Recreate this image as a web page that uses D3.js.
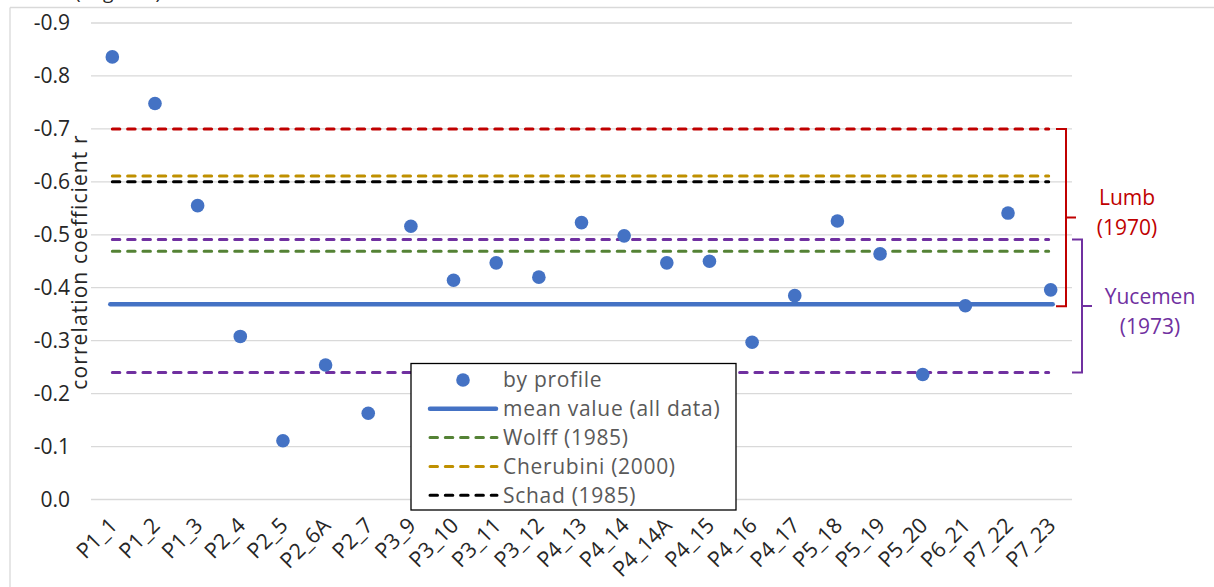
<!DOCTYPE html>
<html>
<head>
<meta charset="utf-8">
<script src="https://cdn.jsdelivr.net/npm/d3@7"></script>
<style>
  html, body { margin: 0; padding: 0; background: #fff; }
  svg { display: block; font-family: "Open Sans", Lato, sans-serif; }
</style>
</head>
<body>
<svg id="chart" width="1214" height="587"></svg>
<script>
// ---- data ----
const categories = ["P1_1","P1_2","P1_3","P2_4","P2_5","P2_6A","P2_7","P3_9","P3_10","P3_11","P3_12",
  "P4_13","P4_14","P4_14A","P4_15","P4_16","P4_17","P5_18","P5_19","P5_20","P6_21","P7_22","P7_23"];
const profileValues = [-0.836,-0.748,-0.555,-0.308,-0.111,-0.254,-0.163,-0.516,-0.414,-0.447,-0.420,
  -0.523,-0.498,-0.447,-0.450,-0.297,-0.385,-0.526,-0.464,-0.236,-0.366,-0.541,-0.396];
const yTicks = [0.0,-0.1,-0.2,-0.3,-0.4,-0.5,-0.6,-0.7,-0.8,-0.9];
const meanValue = -0.369;
const refNames = ["Lumb upper","Cherubini (2000)","Schad (1985)","Yucemen upper","Wolff (1985)","Yucemen lower"];
const refValues = [-0.70, -0.611, -0.60, -0.491, -0.469, -0.240];
const refColors = ["#c00000","#bf9000","#000000","#7030a0","#548235","#7030a0"];
const legendLabels = ["by profile","mean value (all data)","Wolff (1985)","Cherubini (2000)","Schad (1985)"];
const bracketLabels = [["Lumb","(1970)"],["Yucemen","(1973)"]];
const bracketRanges = [[-0.70,-0.365],[-0.491,-0.240]];
const bracketColors = ["#c00000","#7030a0"];

// ---- layout ----
const svg = d3.select("#chart");
const pLeft = 91, pRight = 1072, pTop = 23, pBottom = 499.5;

const x = d3.scaleBand().domain(categories).range([pLeft, pRight]);
const xc = c => x(c) + x.bandwidth()/2;
const y = d3.scaleLinear().domain([0, -0.9]).range([pBottom, pTop]);

// outer frame (chart area border, partially visible)
svg.append("line").attr("x1",10).attr("x2",1214).attr("y1",7.5).attr("y2",7.5)
  .attr("stroke","#d9d9d9").attr("stroke-width",1.3);
svg.append("line").attr("x1",10).attr("x2",10).attr("y1",7.5).attr("y2",587)
  .attr("stroke","#d9d9d9").attr("stroke-width",1.3);
// title remnant, mostly cut off at the top edge in the reference
svg.append("text").attr("x",75).attr("y",-1.5).attr("font-size",19).attr("fill","#262626").text("(negative)");

// gridlines
svg.append("g").selectAll("line").data(yTicks).join("line")
  .attr("x1",pLeft).attr("x2",pRight)
  .attr("y1",d=>y(d)).attr("y2",d=>y(d))
  .attr("stroke","#d9d9d9").attr("stroke-width",1.3);

// y axis
const yAxis = d3.axisLeft(y).tickValues(yTicks).tickSize(0).tickPadding(0)
  .tickFormat(d => d === 0 ? "0.0" : d3.format(".1f")(d).replace("\u2212","-"));
const gy = svg.append("g").attr("transform",`translate(${pLeft-21},0)`).call(yAxis);
gy.select(".domain").remove();
gy.selectAll("text").attr("font-size",21).attr("fill","#262626").attr("font-family","'Open Sans', sans-serif");

// y title
svg.append("text")
  .attr("transform",`translate(87,262) rotate(-90)`)
  .attr("text-anchor","middle").attr("font-size",21).attr("letter-spacing",1.1).attr("fill","#262626")
  .text("correlation coefficient r");

// x axis
const xAxis = d3.axisBottom(x).tickSize(0).tickPadding(0);
const gx = svg.append("g").attr("transform",`translate(0,${pBottom})`).call(xAxis);
gx.select(".domain").remove();
gx.selectAll("text")
  .attr("font-size",21.5).attr("fill","#262626").attr("font-family","'Open Sans', sans-serif")
  .attr("text-anchor","end")
  .attr("transform","translate(1,22) rotate(-45)")
  .attr("dy","0.35em").attr("y",0);

// reference lines
const x0 = xc(categories[0]), x1 = xc(categories[categories.length-1]);
svg.append("g").selectAll("line").data(refValues).join("line")
  .attr("x1",x0).attr("x2",x1-2)
  .attr("y1",d=>y(d)).attr("y2",d=>y(d))
  .attr("stroke",(d,i)=>refColors[i]).attr("stroke-width",3)
  .attr("stroke-dasharray","7.5 7.8").attr("stroke-linecap","round");

// mean line
svg.append("line").attr("x1",x0-2).attr("x2",x1+2)
  .attr("y1",y(meanValue)).attr("y2",y(meanValue))
  .attr("stroke","#4472c4").attr("stroke-width",4.5).attr("stroke-linecap","round");

// points
svg.append("g").selectAll("circle").data(profileValues).join("circle")
  .attr("cx",(d,i)=>xc(categories[i])).attr("cy",d=>y(d)).attr("r",6.8)
  .attr("fill","#4472c4");

// brackets
bracketRanges.forEach((r,i)=>{
  const bx = i===0 ? 1066 : 1082;
  const yt = y(r[0]), yb = y(r[1]), ym = (yt+yb)/2;
  svg.append("path")
    .attr("d",`M${bx-10},${yt} L${bx},${yt} L${bx},${yb} L${bx-10},${yb} M${bx},${ym} L${bx+10},${ym}`)
    .attr("fill","none").attr("stroke",bracketColors[i]).attr("stroke-width",2);
  const tx = i===0 ? 1127 : 1150;
  const ty = i===0 ? 205 : 304;
  bracketLabels[i].forEach((t,j)=>{
    svg.append("text").attr("x",tx).attr("y",ty + j*29.5)
      .attr("text-anchor","middle").attr("font-size",21).attr("fill",bracketColors[i]).text(t);
  });
});

// legend
const lg = svg.append("g");
lg.append("rect").attr("x",411).attr("y",363.5).attr("width",325).attr("height",146.5)
  .attr("fill","#fff").attr("stroke","#000").attr("stroke-width",1.3);
const legendStyles = [
  {type:"dot", color:"#4472c4"},
  {type:"solid", color:"#4472c4"},
  {type:"dash", color:"#548235"},
  {type:"dash", color:"#bf9000"},
  {type:"dash", color:"#000000"}
];
legendLabels.forEach((lab,i)=>{
  const cy = 380 + i*28.8;
  const st = legendStyles[i];
  if (st.type === "dot") {
    lg.append("circle").attr("cx",463).attr("cy",cy).attr("r",6.8).attr("fill",st.color);
  } else if (st.type === "solid") {
    lg.append("line").attr("x1",430).attr("x2",496).attr("y1",cy).attr("y2",cy)
      .attr("stroke",st.color).attr("stroke-width",4.5).attr("stroke-linecap","round");
  } else {
    lg.append("line").attr("x1",430).attr("x2",497).attr("y1",cy).attr("y2",cy)
      .attr("stroke",st.color).attr("stroke-width",3).attr("stroke-dasharray","7.5 7.8").attr("stroke-linecap","round");
  }
  lg.append("text").attr("x",503).attr("y",cy).attr("dy","0.35em")
    .attr("font-size",21).attr("letter-spacing",0.7).attr("fill","#595959").text(lab);
});
</script>
</body>
</html>
